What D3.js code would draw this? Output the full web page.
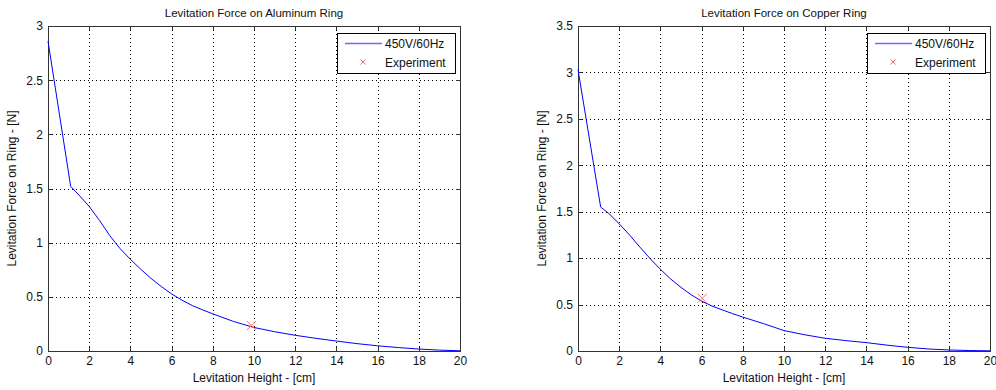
<!DOCTYPE html>
<html>
<head>
<meta charset="utf-8">
<script src="https://cdn.jsdelivr.net/npm/d3@7"></script>
<style>
  body { margin: 0; background: #fff; }
  svg { font-family: "Liberation Sans", Arial, sans-serif; }
  .grid line { stroke: #000; stroke-dasharray: 1,3; shape-rendering: crispEdges; }
  .grid path { display: none; }
  .axis path { display: none; }
  .axis line { stroke: #333; shape-rendering: crispEdges; }
  .axis text { font-size: 12px; fill: #111; }
</style>
</head>
<body>
<script>
// x positions (cm) shared by both curves
var heights = [0, 1.1, 1.5, 2, 2.5, 3, 3.5, 4, 4.5, 5, 5.5, 6, 6.5, 7, 7.5, 8, 9, 10, 11, 12, 13, 14, 15, 16, 17, 18, 19, 20];
var forceAluminum = [2.86, 1.52, 1.44, 1.335, 1.205, 1.065, 0.945, 0.846, 0.755, 0.67, 0.595, 0.527, 0.47, 0.42, 0.38, 0.343, 0.273, 0.217, 0.178, 0.145, 0.117, 0.092, 0.068, 0.048, 0.032, 0.018, 0.008, 0.002];
var forceCopper = [3.03, 1.55, 1.48, 1.37, 1.25, 1.12, 0.995, 0.88, 0.775, 0.685, 0.605, 0.537, 0.485, 0.443, 0.403, 0.365, 0.295, 0.22, 0.175, 0.137, 0.112, 0.09, 0.063, 0.04, 0.022, 0.011, 0.005, 0.002];
var expAluminum = [9.87, 0.235];
var expCopper = [6.03, 0.567];
var xTicks = [0, 2, 4, 6, 8, 10, 12, 14, 16, 18, 20];
var yTicksAl = [0, 0.5, 1, 1.5, 2, 2.5, 3];
var yTicksCu = [0, 0.5, 1, 1.5, 2, 2.5, 3, 3.5];

var svg = d3.select("body").append("svg").attr("width", 996).attr("height", 390);

var width = 412, height = 325;

function cross(cx, cy, s) {
  return "M" + (cx - s) + "," + (cy - s) + "L" + (cx + s) + "," + (cy + s) +
         "M" + (cx - s) + "," + (cy + s) + "L" + (cx + s) + "," + (cy - s);
}

function drawPanel(left, title, values, exp, yTicks, yMax) {
  var g = svg.append("g").attr("transform", "translate(" + left + ",26)");
  var x = d3.scaleLinear().domain([0, 20]).range([0, width]);
  var y = d3.scaleLinear().domain([0, yMax]).range([height, 0]);
  var fmt = function (d) { return String(d); };

  // dotted grid
  g.append("g").attr("class", "grid")
    .attr("transform", "translate(0," + height + ")")
    .call(d3.axisBottom(x).tickValues(xTicks.slice(1, -1)).tickSize(-height).tickFormat(""));
  g.append("g").attr("class", "grid")
    .call(d3.axisLeft(y).tickValues(yTicks.slice(1, -1)).tickSize(-width).tickFormat(""));

  // inward ticks on all four sides
  g.append("g").attr("class", "axis")
    .attr("transform", "translate(0," + height + ")")
    .call(d3.axisBottom(x).tickValues(xTicks).tickSizeInner(-4).tickSizeOuter(0).tickPadding(5).tickFormat(fmt));
  g.append("g").attr("class", "axis")
    .call(d3.axisTop(x).tickValues(xTicks).tickSizeInner(-4).tickSizeOuter(0).tickFormat(""));
  g.append("g").attr("class", "axis")
    .call(d3.axisLeft(y).tickValues(yTicks).tickSizeInner(-4).tickSizeOuter(0).tickPadding(5).tickFormat(fmt));
  g.append("g").attr("class", "axis")
    .attr("transform", "translate(" + width + ",0)")
    .call(d3.axisRight(y).tickValues(yTicks).tickSizeInner(-4).tickSizeOuter(0).tickFormat(""));

  g.append("rect").attr("x", 0.5).attr("y", 0.5).attr("width", width).attr("height", height)
    .attr("fill", "none").attr("stroke", "#333");

  var line = d3.line()
    .x(function (d, i) { return x(heights[i]); })
    .y(function (d) { return y(d); });
  g.append("path").attr("d", line(values))
    .attr("fill", "none").attr("stroke", "#0000ff").attr("stroke-width", 1);

  // experiment marker
  g.append("path").attr("d", cross(x(exp[0]), y(exp[1]), 4.5))
    .attr("stroke", "#ff6a6a").attr("stroke-width", 1).attr("fill", "none");

  // titles
  g.append("text").attr("x", width / 2).attr("y", -9).attr("text-anchor", "middle")
    .attr("font-size", 11.5).attr("fill", "#111").text(title);
  g.append("text").attr("x", width / 2).attr("y", height + 31).attr("text-anchor", "middle")
    .attr("font-size", 12).attr("fill", "#111").text("Levitation Height - [cm]");
  g.append("text").attr("transform", "translate(-32," + (height / 2) + ") rotate(-90)")
    .attr("text-anchor", "middle").attr("font-size", 12).attr("fill", "#111")
    .text("Levitation Force on Ring - [N]");

  // legend
  var lg = g.append("g").attr("transform", "translate(" + (width - 123) + ",7)");
  lg.append("rect").attr("x", 0.5).attr("y", 0.5).attr("width", 118).attr("height", 40)
    .attr("fill", "#fff").attr("stroke", "#000");
  lg.append("line").attr("x1", 8).attr("x2", 45).attr("y1", 10.5).attr("y2", 10.5)
    .attr("stroke", "#6a6aff").attr("stroke-width", 1.5);
  lg.append("text").attr("x", 48).attr("y", 15).attr("font-size", 12).attr("fill", "#111").text("450V/60Hz");
  lg.append("path").attr("d", cross(26, 29, 2.5))
    .attr("stroke", "#ff6a6a").attr("fill", "none");
  lg.append("text").attr("x", 48).attr("y", 34).attr("font-size", 12).attr("fill", "#111").text("Experiment");
}

drawPanel(48, "Levitation Force on Aluminum Ring", forceAluminum, expAluminum, yTicksAl, 3);
drawPanel(578, "Levitation Force on Copper Ring", forceCopper, expCopper, yTicksCu, 3.5);
</script>
</body>
</html>
